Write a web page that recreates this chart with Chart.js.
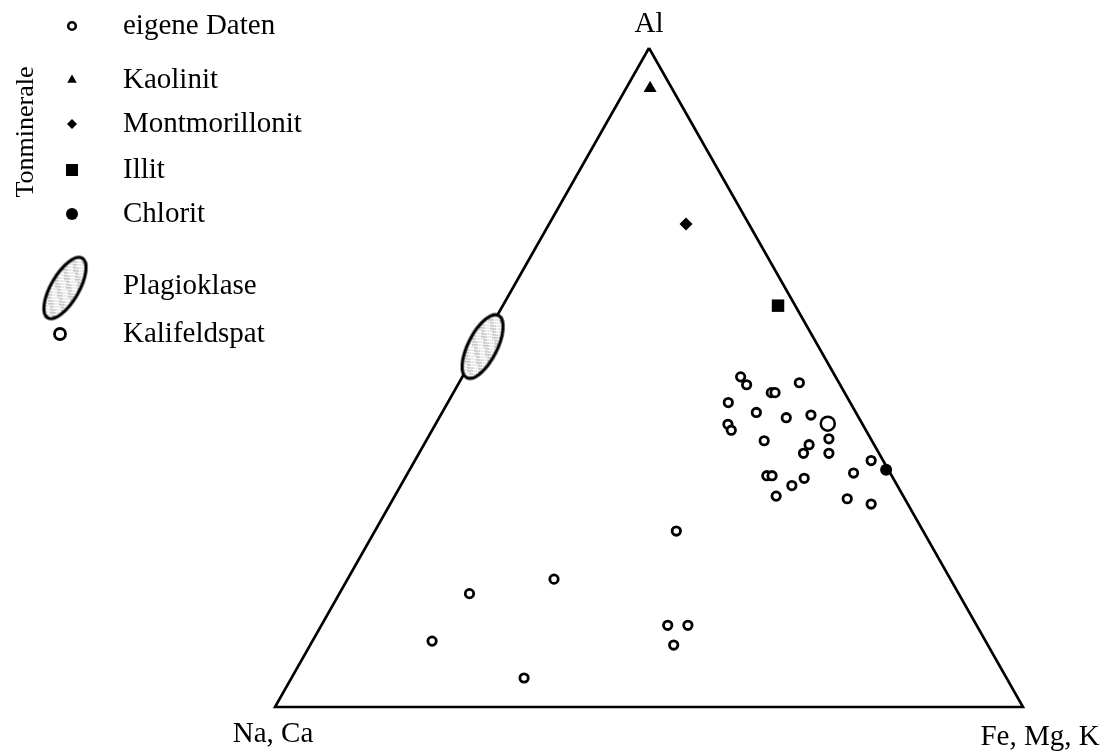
<!DOCTYPE html>
<html lang="de">
<head>
    <meta charset="UTF-8">
    <title>Dreiecksdiagramm Al - Na, Ca - Fe, Mg, K</title>
    <script src="https://cdn.jsdelivr.net/npm/chart.js"></script>
    <style>
        html, body {
            margin: 0;
            padding: 0;
            background: #ffffff;
        }

        .chart-box {
            position: relative;
            width: 1113px;
            height: 754px;
        }
    </style>
</head>
<body>
    <div class="chart-box">
        <canvas id="ternary"></canvas>
    </div>

    <script>
        // Eigene Daten, Anteile in % (Al + Fe,Mg,K + Na,Ca = 100)
        const sampleAl    = [50.1, 48.9, 49.2, 47.7, 47.7, 46.2, 44.7, 43.9, 44.3, 42.9, 42.0, 40.4, 40.7, 39.8, 38.5, 38.5, 37.4,
                             35.5, 35.1, 35.1, 34.7, 33.6, 32.0, 31.6, 30.8, 26.7, 19.4, 17.2, 10.0, 12.4, 12.4, 9.4, 4.4];
        const sampleFeMgK = [37.2, 38.6, 45.5, 42.5, 43.0, 37.5, 42.0, 46.4, 49.5, 39.1, 40.0, 45.2, 53.7, 51.5, 51.4, 54.8, 61.0,
                             59.6, 48.2, 48.9, 53.4, 52.3, 51.0, 60.7, 64.3, 40.3, 27.6, 17.4, 16.0, 46.3, 49.0, 48.6, 31.1];
        const sampleNaCa  = [12.7, 12.5, 5.3, 9.8, 9.3, 16.3, 13.3, 9.7, 6.2, 18.0, 18.0, 14.4, 5.6, 8.7, 10.1, 6.7, 1.6,
                             4.9, 16.7, 16.0, 11.9, 14.1, 17.0, 7.8, 4.9, 33.0, 53.0, 65.4, 74.0, 41.3, 38.6, 42.0, 64.5];

        // Tonminerale
        const clayNames = ['Kaolinit', 'Montmorillonit', 'Illit', 'Chlorit'];
        const clayAl    = [93.9, 73.3, 60.9, 36.0];
        const clayFeMgK = [3.2, 18.3, 36.8, 63.7];
        const clayNaCa  = [2.9, 8.4, 2.3, 0.3];

        // Feldspäte
        const feldsparNames = ['Plagioklase', 'Kalifeldspat'];
        const feldsparAl    = [54.7, 43.0];
        const feldsparFeMgK = [0.4, 52.4];
        const feldsparNaCa  = [44.9, 4.6];

        // Ecken des Dreiecks
        const cornerLabels = ['Al', 'Na, Ca', 'Fe, Mg, K'];
        const cornerAl     = [100, 0, 0];
        const cornerFeMgK  = [0, 0, 100];

        const sampleLabel = 'eigene Daten';
        const groupLabel = 'Tonminerale';

        // Umrechnung ternär -> kartesisch (Basis 0..1, Höhe 0..1)
        function toXY(al, fe) {
            return { x: fe / 100 + al / 200, y: al / 100 };
        }

        const FONT = '"Liberation Serif", "Times New Roman", serif';

        // Plagioklas-Feld als Ellipse mit Punktraster
        function ellipseImage(len, wid, angleDeg) {
            const size = Math.ceil(len + 10);
            const c = document.createElement('canvas');
            c.width = size;
            c.height = size;
            const g = c.getContext('2d');
            g.translate(size / 2, size / 2);
            g.rotate(-angleDeg * Math.PI / 180);
            g.beginPath();
            g.ellipse(0, 0, len / 2, wid / 2, 0, 0, 2 * Math.PI);
            g.fillStyle = '#ffffff';
            g.fill();
            g.save();
            g.clip();
            g.setTransform(1, 0, 0, 1, 0, 0);
            // gestreutes Raster, deterministisch
            for (let i = 0; i < size; i++) {
                for (let j = 0; j < size; j++) {
                    const h = (i * 374761 + j * 668265) % 97;
                    if (h < 22) {
                        g.fillStyle = h < 8 ? '#6e6e6e' : '#b4b4b4';
                        g.fillRect(i, j, 1, 1);
                    }
                }
            }
            g.restore();
            g.lineWidth = 3.2;
            g.strokeStyle = '#000000';
            g.stroke();
            return c;
        }

        const plagioChart = ellipseImage(70, 29, 63);
        const plagioLegend = ellipseImage(69, 28, 60);

        const frame = cornerAl.concat(cornerAl[0]).map((a, i) => {
            const k = i % 3;
            return toXY(cornerAl[k], cornerFeMgK[k]);
        });

        const samplePts = sampleAl.map((a, i) => toXY(a, sampleFeMgK[i]));
        const clayPts = clayAl.map((a, i) => toXY(a, clayFeMgK[i]));
        const feldPts = feldsparAl.map((a, i) => toXY(a, feldsparFeMgK[i]));

        const clayStyle = [
            { shape: 'triangle', r: 7.5, legendR: 5.5 },
            { shape: 'rectRot', r: 6.5, legendR: 5 },
            { shape: 'rect', r: 8.8, legendR: 8.5 },
            { shape: 'circle', r: 6, legendR: 6 }
        ];

        const datasets = [];
        datasets.push({
            label: 'Dreieck',
            data: frame,
            showLine: true,
            borderColor: '#000000',
            borderWidth: 2.6,
            pointRadius: 0,
            fill: false,
            order: 10
        });
        datasets.push({
            label: feldsparNames[0],
            data: [feldPts[0]],
            pointStyle: plagioChart,
            pointRadius: 20,
            order: 5
        });
        datasets.push({
            label: sampleLabel,
            data: samplePts,
            pointStyle: 'circle',
            pointRadius: 4.2,
            pointBorderWidth: 2.8,
            pointBorderColor: '#000000',
            pointBackgroundColor: '#ffffff',
            order: 4
        });
        datasets.push({
            label: feldsparNames[1],
            data: [feldPts[1]],
            pointStyle: 'circle',
            pointRadius: 7,
            pointBorderWidth: 2.5,
            pointBorderColor: '#000000',
            pointBackgroundColor: '#ffffff',
            order: 3
        });
        clayNames.forEach((name, i) => {
            datasets.push({
                label: name,
                data: [clayPts[i]],
                pointStyle: clayStyle[i].shape,
                pointRadius: clayStyle[i].r,
                pointBorderWidth: 0,
                pointBackgroundColor: '#000000',
                order: 1
            });
        });

        function drawMarker(ctx, shape, r, border, fill, x, y) {
            ctx.save();
            ctx.fillStyle = fill;
            ctx.strokeStyle = '#000000';
            ctx.lineWidth = border;
            Chart.helpers.drawPoint(ctx, { pointStyle: shape, radius: r, rotation: 0, borderWidth: border }, x, y);
            ctx.restore();
        }

        const ternaryText = {
            id: 'ternaryText',
            afterDraw(chart) {
                const ctx = chart.ctx;
                const sx = chart.scales.x;
                const sy = chart.scales.y;
                ctx.save();
                ctx.fillStyle = '#000000';
                ctx.font = '29px ' + FONT;
                ctx.textBaseline = 'alphabetic';
                ctx.textAlign = 'center';

                // Ecken
                const offsets = [[0, -16], [-2, 35], [17, 38]];
                cornerLabels.forEach((t, i) => {
                    const p = toXY(cornerAl[i], cornerFeMgK[i]);
                    ctx.fillText(t, sx.getPixelForValue(p.x) + offsets[i][0], sy.getPixelForValue(p.y) + offsets[i][1]);
                });

                // Legende
                const mx = 72;
                const tx = 123;
                ctx.textAlign = 'left';
                ctx.textBaseline = 'middle';

                drawMarker(ctx, 'circle', 3.8, 2.6, '#ffffff', mx, 26);
                ctx.fillText(sampleLabel, tx, 26);

                const rows = [80, 124, 170, 214];
                clayNames.forEach((name, i) => {
                    drawMarker(ctx, clayStyle[i].shape, clayStyle[i].legendR, 0, '#000000', mx, rows[i]);
                    ctx.fillText(name, tx, rows[i]);
                });

                ctx.drawImage(plagioLegend, 65 - plagioLegend.width / 2, 288 - plagioLegend.height / 2);
                ctx.fillText(feldsparNames[0], tx, 286);

                drawMarker(ctx, 'circle', 5.5, 2.8, '#ffffff', 60, 334);
                ctx.fillText(feldsparNames[1], tx, 334);

                // vertikale Beschriftung der Tonminerale
                ctx.save();
                ctx.translate(33, 132);
                ctx.rotate(-Math.PI / 2);
                ctx.textAlign = 'center';
                ctx.textBaseline = 'alphabetic';
                ctx.font = '26px ' + FONT;
                ctx.fillText(groupLabel, 0, 0);
                ctx.restore();

                ctx.restore();
            }
        };

        new Chart(document.getElementById('ternary'), {
            type: 'scatter',
            data: { datasets: datasets },
            options: {
                responsive: true,
                maintainAspectRatio: false,
                animation: false,
                events: [],
                clip: false,
                layout: {
                    padding: { left: 275, right: 90, top: 48, bottom: 47 }
                },
                scales: {
                    x: { type: 'linear', min: 0, max: 1, display: false },
                    y: { type: 'linear', min: 0, max: 1, display: false }
                },
                plugins: {
                    legend: { display: false },
                    tooltip: { enabled: false }
                }
            },
            plugins: [ternaryText]
        });
    </script>
</body>
</html>
